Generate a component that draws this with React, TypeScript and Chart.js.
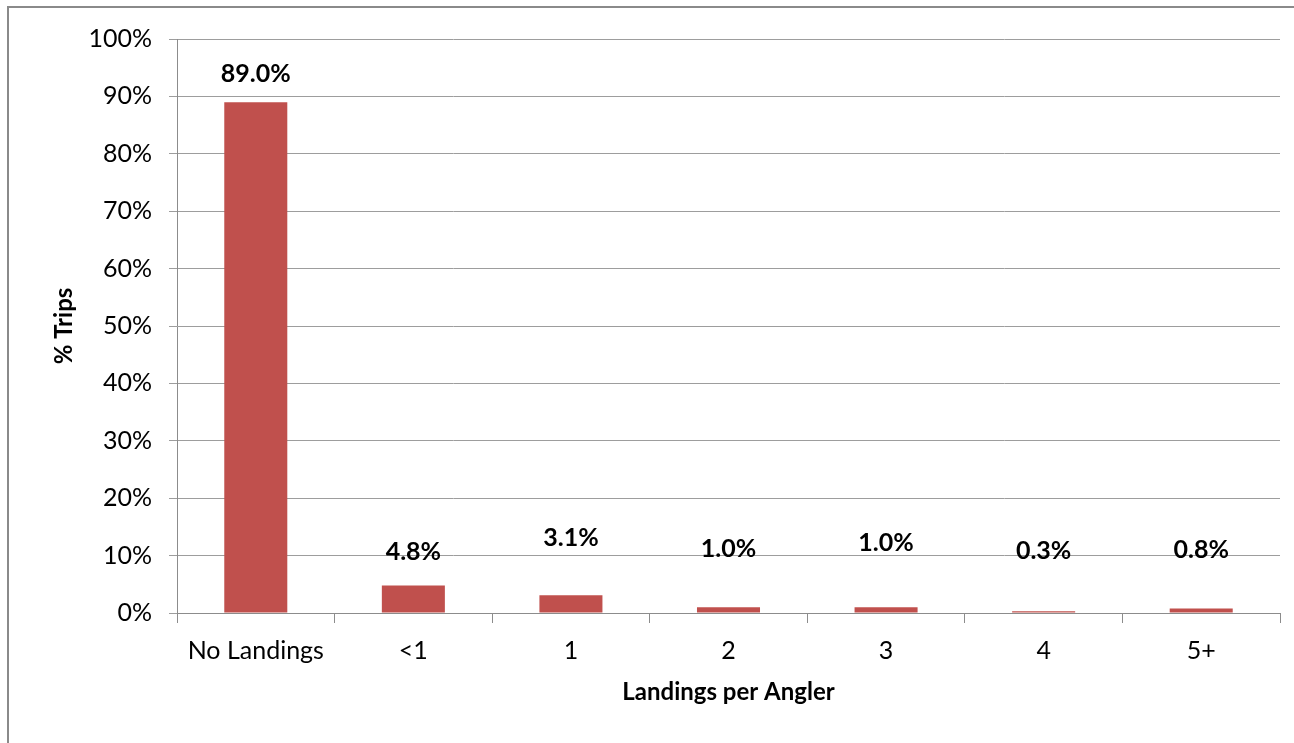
import React, { useEffect, useRef } from "react";
import { Chart, registerables } from "chart.js";

Chart.register(...registerables);

const categories = ["No Landings", "<1", "1", "2", "3", "4", "5+"];
const tripShares = [89.0, 4.8, 3.1, 1.0, 1.0, 0.3, 0.8];
const yTickValues = [0, 10, 20, 30, 40, 50, 60, 70, 80, 90, 100];

const FONT = "Lato, 'Open Sans', 'DejaVu Sans', sans-serif";
const BAR_COLOR = "#C0504D";
const GRID_COLOR = "#9d9d9d";
const AXIS_COLOR = "#8c8c8c";
// vertical pixel lift of each data label above its bar top (as placed in the original)
const LABEL_LIFT = [28, 34, 57, 58, 64, 60, 58];

const framePlugin = {
  id: "frame",
  beforeDraw(chart: any) {
    const ctx = chart.ctx;
    ctx.save();
    ctx.fillStyle = "#ffffff";
    ctx.fillRect(0, 0, chart.width, chart.height);
    ctx.strokeStyle = "#8a8a8a";
    ctx.lineWidth = 2;
    ctx.strokeRect(8, 7, chart.width + 20, chart.height + 20);
    ctx.restore();
  },
};

const valueLabelPlugin = {
  id: "valueLabels",
  afterDatasetsDraw(chart: any) {
    const ctx = chart.ctx;
    const meta = chart.getDatasetMeta(0);
    ctx.save();
    ctx.font = `bold 25px ${FONT}`;
    ctx.fillStyle = "#000000";
    ctx.textAlign = "center";
    ctx.textBaseline = "middle";
    meta.data.forEach((bar: any, i: number) => {
      const v = chart.data.datasets[0].data[i] as number;
      ctx.fillText(v.toFixed(1) + "%", bar.x, bar.y - LABEL_LIFT[i]);
    });
    ctx.restore();
  },
};

export default function App() {
  const canvasRef = useRef<HTMLCanvasElement | null>(null);

  useEffect(() => {
    document.body.style.margin = "0";
    const canvas = canvasRef.current;
    if (!canvas) return;
    const chart = new Chart(canvas, {
      type: "bar",
      data: {
        labels: categories,
        datasets: [
          {
            data: tripShares,
            backgroundColor: BAR_COLOR,
            borderWidth: 0,
            barPercentage: 0.4,
            categoryPercentage: 1.0,
          },
        ],
      },
      options: {
        responsive: false,
        animation: false,
        devicePixelRatio: 1,
        layout: { padding: { top: 39, right: 14, left: 0, bottom: 0 } },
        plugins: {
          legend: { display: false },
          tooltip: { enabled: false },
          title: { display: false },
        },
        scales: {
          x: {
            type: "category",
            offset: true,
            grid: {
              display: true,
              drawOnChartArea: false,
              drawTicks: true,
              tickLength: 10,
              color: AXIS_COLOR,
              offset: true,
            },
            border: { display: true, color: AXIS_COLOR, width: 1 },
            ticks: {
              color: "#000000",
              font: { family: FONT, size: 25 },
              padding: 13,
              maxRotation: 0,
              autoSkip: false,
            },
            title: {
              display: true,
              text: "Landings per Angler",
              color: "#000000",
              font: { family: FONT, size: 24, weight: "bold" },
              padding: { top: 0, bottom: 36 },
            },
            afterFit(scale: any) {
              scale.height = 130;
            },
          },
          y: {
            min: 0,
            max: 100,
            afterBuildTicks(scale: any) {
              scale.ticks = yTickValues.map((v) => ({ value: v }));
            },
            grid: {
              color: GRID_COLOR,
              lineWidth: 1,
              drawTicks: true,
              tickLength: 8,
            },
            border: { display: true, color: AXIS_COLOR, width: 1 },
            ticks: {
              color: "#000000",
              font: { family: FONT, size: 25 },
              padding: 17,
              callback: (v: any) => `${v}%`,
            },
            title: {
              display: true,
              text: "% Trips",
              color: "#000000",
              font: { family: FONT, size: 24, weight: "bold" },
              padding: { top: 50, bottom: 0 },
            },
            afterFit(scale: any) {
              scale.width = 177;
            },
          },
        },
      },
      plugins: [framePlugin, valueLabelPlugin],
    } as any);
    return () => chart.destroy();
  }, []);

  return (
    <div style={{ width: 1294, height: 743 }}>
      <canvas ref={canvasRef} width={1294} height={743} style={{ display: "block" }} />
    </div>
  );
}
